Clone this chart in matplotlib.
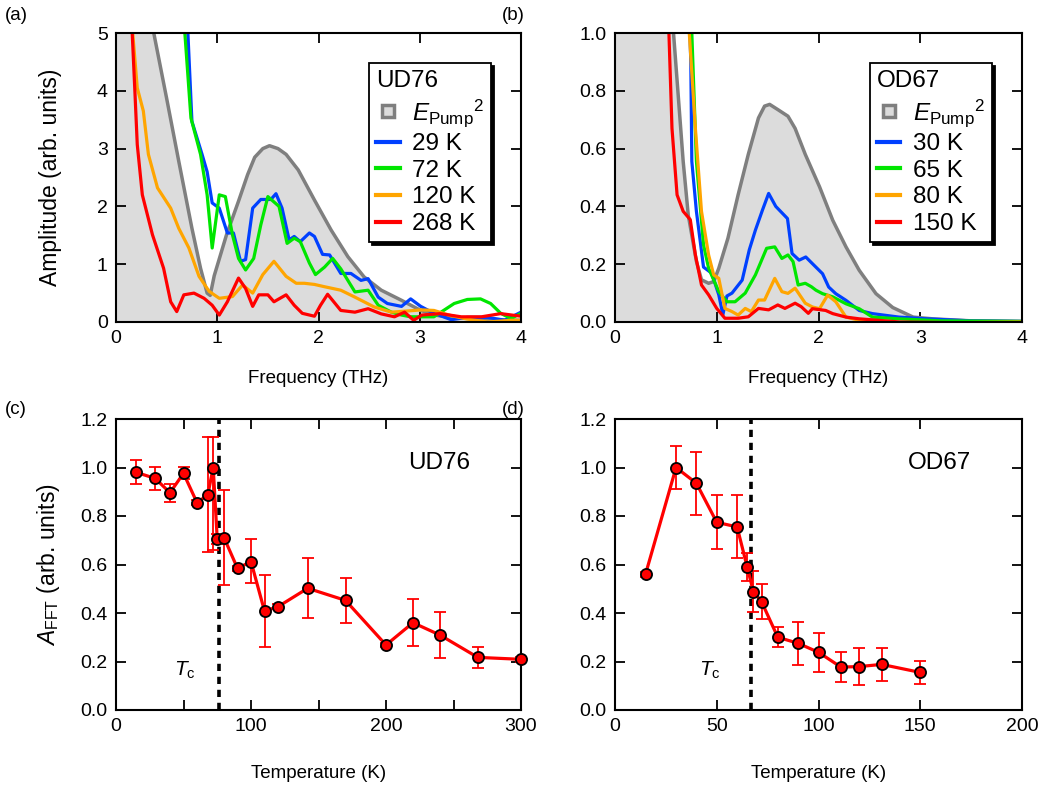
import matplotlib
matplotlib.use("Agg")
import matplotlib.pyplot as plt
from matplotlib.lines import Line2D
import numpy as np

plt.rcParams['font.family'] = ['Liberation Sans', 'DejaVu Sans']
plt.rcParams['mathtext.fontset'] = 'custom'
plt.rcParams['mathtext.rm'] = 'Liberation Sans'
plt.rcParams['mathtext.it'] = 'Liberation Sans:italic'
plt.rcParams['font.size'] = 13

# ---- panel (a): UD76 spectra (freq THz, amplitude)
ud_pump_f = [0.0, 0.2, 0.373, 0.5, 0.62, 0.75, 0.835, 0.90, 0.93, 0.97, 1.09, 1.21, 1.30, 1.37, 1.45,
             1.516, 1.60, 1.68, 1.80, 1.96, 2.125, 2.29, 2.45, 2.62, 2.82, 3.01, 3.15, 3.3, 3.6, 4.0]
ud_pump_a = [9.0, 7.0, 5.0, 3.87, 2.78, 1.62, 0.93, 0.50, 0.46, 0.80, 1.5, 2.09, 2.55, 2.85, 3.0,
             3.05, 3.0, 2.9, 2.63, 2.11, 1.59, 1.13, 0.78, 0.55, 0.375, 0.2, 0.12, 0.08, 0.05, 0.03]

ud_29_f = [0.6, 0.71, 0.75, 0.85, 0.90, 0.95, 1.02, 1.10, 1.16, 1.23, 1.28, 1.35, 1.43, 1.53, 1.58, 1.64,
           1.71, 1.76, 1.82, 1.91, 1.96, 2.04, 2.11, 2.22, 2.32, 2.42, 2.49, 2.59, 2.68, 2.82, 2.91, 3.01,
           3.14, 3.31, 3.47, 3.67, 3.84, 4.0]
ud_29_a = [7.0, 5.0, 3.47, 2.9, 2.6, 2.06, 1.97, 1.54, 1.54, 1.05, 1.08, 1.97, 2.12, 2.12, 2.22, 1.97,
           1.42, 1.48, 1.39, 1.54, 1.48, 1.17, 1.16, 0.84, 0.84, 0.72, 0.75, 0.43, 0.32, 0.27, 0.40, 0.27,
           0.15, 0.04, 0.08, 0.08, 0.03, 0.17]

ud_72_f = [0.6, 0.68, 0.74, 0.835, 0.90, 0.95, 1.02, 1.08, 1.15, 1.21, 1.28, 1.36, 1.43, 1.50, 1.61, 1.69,
           1.76, 1.82, 1.91, 1.97, 2.06, 2.14, 2.22, 2.36, 2.49, 2.59, 2.72, 2.82, 2.91, 3.14, 3.34, 3.47,
           3.60, 3.70, 3.80, 3.90, 4.0]
ud_72_a = [7.0, 5.0, 3.53, 2.9, 2.2, 1.28, 2.2, 2.17, 1.51, 1.10, 0.90, 1.10, 1.68, 2.17, 2.0, 1.36,
           1.45, 1.39, 1.02, 0.82, 0.95, 1.10, 0.92, 0.52, 0.55, 0.29, 0.17, 0.12, 0.09, 0.09, 0.32, 0.39,
           0.40, 0.32, 0.15, 0.06, 0.15]

ud_120_f = [0.1, 0.165, 0.21, 0.27, 0.32, 0.41, 0.54, 0.62, 0.72, 0.82, 0.92, 1.02, 1.15, 1.25, 1.35, 1.45,
            1.56, 1.68, 1.78, 1.86, 1.96, 2.06, 2.22, 2.36, 2.55, 2.72, 2.95, 3.01, 3.14, 3.31, 3.47, 3.67,
            3.9, 4.0]
ud_120_a = [7.0, 5.0, 4.05, 3.65, 2.9, 2.32, 1.97, 1.62, 1.28, 0.79, 0.53, 0.41, 0.44, 0.64, 0.50, 0.82,
            1.05, 0.79, 0.67, 0.67, 0.65, 0.61, 0.55, 0.43, 0.26, 0.17, 0.2, 0.21, 0.20, 0.11, 0.05, 0.0,
            0.03, 0.03]

ud_268_f = [0.1, 0.16, 0.185, 0.21, 0.26, 0.36, 0.47, 0.54, 0.60, 0.67, 0.77, 0.87, 0.95, 1.02, 1.10, 1.21,
            1.28, 1.35, 1.41, 1.50, 1.56, 1.68, 1.76, 1.84, 1.96, 2.02, 2.09, 2.22, 2.36, 2.49, 2.62, 2.75,
            2.85, 2.94, 3.02, 3.2, 3.41, 3.61, 3.80, 4.0]
ud_268_a = [7.0, 5.0, 4.05, 3.07, 2.2, 1.51, 0.93, 0.35, 0.18, 0.47, 0.5, 0.41, 0.29, 0.12, 0.35, 0.76,
            0.58, 0.27, 0.47, 0.47, 0.35, 0.47, 0.29, 0.15, 0.10, 0.29, 0.48, 0.2, 0.17, 0.23, 0.14, 0.09,
            0.17, 0.03, 0.12, 0.145, 0.09, 0.09, 0.145, 0.10]

# ---- panel (b): OD67 spectra
od_pump_f = [0.0, 0.4, 0.575, 0.62, 0.67, 0.72, 0.80, 0.85, 0.92, 0.97, 1.02, 1.11, 1.21, 1.31, 1.41, 1.47,
             1.52, 1.60, 1.70, 1.77, 1.87, 2.01, 2.14, 2.27, 2.40, 2.565, 2.73, 2.93, 3.12, 3.5, 4.0]
od_pump_a = [2.0, 1.4, 1.0, 0.79, 0.556, 0.37, 0.21, 0.146, 0.134, 0.14, 0.186, 0.29, 0.44, 0.58, 0.706, 0.747,
             0.753, 0.735, 0.712, 0.67, 0.58, 0.468, 0.352, 0.26, 0.179, 0.098, 0.05, 0.017, 0.011, 0.004, 0.002]

od_30_f = [0.7, 0.745, 0.755, 0.80, 0.87, 0.95, 1.02, 1.06, 1.10, 1.15, 1.25, 1.32, 1.38, 1.45, 1.51, 1.58,
           1.695, 1.74, 1.81, 1.875, 1.94, 2.04, 2.10, 2.17, 2.27, 2.40, 2.53, 2.79, 3.06, 3.5, 4.0]
od_30_a = [1.4, 0.9, 0.556, 0.383, 0.19, 0.169, 0.094, 0.025, 0.09, 0.10, 0.145, 0.25, 0.318, 0.388, 0.445, 0.40,
           0.358, 0.237, 0.214, 0.225, 0.202, 0.167, 0.121, 0.098, 0.075, 0.040, 0.029, 0.017, 0.011, 0.004, 0.002]

od_65_f = [0.7, 0.755, 0.80, 0.87, 0.92, 1.02, 1.10, 1.18, 1.28, 1.38, 1.49, 1.57, 1.64, 1.70, 1.75, 1.80,
           1.87, 1.93, 1.975, 2.04, 2.14, 2.27, 2.40, 2.53, 2.79, 3.2, 4.0]
od_65_a = [1.4, 1.0, 0.556, 0.267, 0.186, 0.105, 0.07, 0.07, 0.10, 0.163, 0.255, 0.26, 0.22, 0.232, 0.209, 0.128,
           0.134, 0.122, 0.11, 0.098, 0.087, 0.063, 0.046, 0.017, 0.011, 0.004, 0.002]

od_80_f = [0.68, 0.73, 0.79, 0.85, 0.92, 0.97, 1.02, 1.08, 1.15, 1.21, 1.28, 1.34, 1.41, 1.47, 1.57, 1.64,
           1.70, 1.77, 1.87, 1.94, 2.01, 2.09, 2.17, 2.27, 2.40, 2.8, 3.5, 4.0]
od_80_a = [1.4, 1.0, 0.67, 0.383, 0.232, 0.163, 0.151, 0.047, 0.036, 0.024, 0.047, 0.036, 0.076, 0.076, 0.151, 0.105,
           0.099, 0.117, 0.065, 0.052, 0.046, 0.093, 0.07, 0.017, 0.006, -0.003, -0.002, 0.0]

od_150_f = [0.5, 0.53, 0.56, 0.61, 0.67, 0.74, 0.79, 0.85, 0.92, 1.0, 1.08, 1.21, 1.31, 1.41, 1.51, 1.60,
            1.67, 1.77, 1.83, 1.90, 1.94, 2.07, 2.14, 2.27, 2.40, 2.8, 3.5, 4.0]
od_150_a = [1.4, 1.0, 0.67, 0.44, 0.383, 0.354, 0.232, 0.128, 0.094, 0.047, 0.013, 0.013, 0.018, 0.047, 0.042, 0.059,
            0.047, 0.065, 0.053, 0.03, 0.046, 0.04, 0.029, 0.017, 0.011, 0.0, -0.003, -0.002]

# ---- panel (c): UD76 A_FFT vs temperature
ud_T = [15, 29, 40, 50, 60, 68, 72, 75, 80, 90, 100, 110, 120, 142, 170, 200, 220, 240, 268, 300]
ud_A = [0.98, 0.955, 0.896, 0.976, 0.855, 0.887, 1.0, 0.704, 0.711, 0.584, 0.612, 0.408, 0.426, 0.502,
        0.452, 0.268, 0.36, 0.309, 0.217, 0.209]
ud_err_lo = [0.05, 0.047, 0.038, 0.025, 0.01, 0.234, 0.34, 0.02, 0.196, 0.01, 0.09, 0.147, 0.01, 0.124,
             0.095, 0.01, 0.096, 0.093, 0.045, 0.01]
ud_err_hi = [0.05, 0.047, 0.036, 0.026, 0.01, 0.24, 0.127, 0.02, 0.196, 0.01, 0.092, 0.149, 0.01, 0.126,
             0.092, 0.01, 0.098, 0.094, 0.044, 0.01]
ud_Tc = 76

# ---- panel (d): OD67 A_FFT vs temperature
od_T = [15, 30, 40, 50, 60, 65, 68, 72, 80, 90, 100, 111, 120, 131, 150]
od_A = [0.56, 1.0, 0.935, 0.774, 0.755, 0.588, 0.488, 0.447, 0.30, 0.275, 0.238, 0.177, 0.179, 0.188, 0.155]
od_err = [0.01, 0.09, 0.13, 0.112, 0.13, 0.058, 0.085, 0.073, 0.042, 0.088, 0.08, 0.063, 0.075, 0.068, 0.047]
od_Tc = 67

BLUE = '#0040ff'
GREEN = '#00e600'
ORANGE = '#ffa500'
RED = '#ff0000'
GRAY = '#7f7f7f'
FILL = '#dcdcdc'
LW = 2.3
TICK_FS = 14
LABEL_FS = 13.5
YLABEL_FS = 16.5
NOTE_FS = 17.5


def style_axes(ax):
    for s in ax.spines.values():
        s.set_linewidth(1.5)
    ax.tick_params(direction='in', length=7, width=1.3, top=True, right=True,
                   labelsize=TICK_FS, pad=6)


def spectra_panel(ax, pump_f, pump_a, curves, labels, title, ymax, yticks, ylabels):
    ax.fill_between(pump_f, pump_a, 0, color=FILL, lw=0)
    ax.plot(pump_f, pump_a, color=GRAY, lw=2.5)
    colors = [BLUE, GREEN, ORANGE, RED]
    for (f, a), c in zip(curves, colors):
        ax.plot(f, a, color=c, lw=LW)
    ax.set_xlim(0, 4)
    ax.set_ylim(0, ymax)
    ax.set_xticks([0, 1, 2, 3, 4])
    ax.set_yticks(yticks)
    ax.set_yticklabels(ylabels)
    ax.set_xlabel('Frequency (THz)', fontsize=LABEL_FS)
    ax.xaxis.set_label_coords(0.5, -0.165)
    style_axes(ax)
    handles = [Line2D([], [], marker='s', ms=8, mfc=FILL, mec=GRAY, mew=2.5, ls='none')]
    handles += [Line2D([], [], color=c, lw=3) for c in colors]
    leg = ax.legend(handles, [r'$E_{\mathrm{Pump}}{}^{2}$'] + labels, title=title,
                    loc='upper right', bbox_to_anchor=(0.926, 0.896), borderaxespad=0,
                    fontsize=NOTE_FS, title_fontsize=NOTE_FS, alignment='left', fancybox=False,
                    edgecolor='black', framealpha=1, handlelength=0.95, handletextpad=0.5,
                    labelspacing=0.19, borderpad=0.3,
                    shadow={'color': 'black', 'alpha': 1})
    leg.get_frame().set_linewidth(1.3)
    return leg


def temp_panel(ax, T, A, err, Tc, name, xmax, xticks, xlabels, tc_x):
    ax.axvline(Tc, color='black', ls=(0, (2, 1.6)), lw=2.6, zorder=1)
    ax.errorbar(T, A, yerr=err, color=RED, lw=2.3, ecolor=RED, elinewidth=1.3,
                capsize=4.3, capthick=1.3, marker='o', ms=8, mfc=RED, mec='black',
                mew=1.3, clip_on=False, zorder=3)
    ax.set_xlim(0, xmax)
    ax.set_ylim(0, 1.2)
    ax.set_xticks(xticks)
    ax.set_xticklabels(xlabels)
    ax.set_yticks([0, 0.2, 0.4, 0.6, 0.8, 1.0, 1.2])
    ax.set_yticklabels(['0.0', '0.2', '0.4', '0.6', '0.8', '1.0', '1.2'])
    ax.set_xlabel('Temperature (K)', fontsize=LABEL_FS)
    ax.xaxis.set_label_coords(0.5, -0.19)
    ax.text(0.797, 0.85, name, transform=ax.transAxes, fontsize=NOTE_FS, ha='center', va='center')
    ax.text(tc_x, 0.135, r'$T_{\mathrm{c}}$', transform=ax.transAxes, fontsize=15,
            ha='center', va='center')
    style_axes(ax)


fig = plt.figure(figsize=(10.45, 8.02), dpi=100)
W, H = 1045.0, 802.0
ax_a = fig.add_axes([116 / W, 1 - 322 / H, 405 / W, 289 / H])
ax_b = fig.add_axes([615 / W, 1 - 322 / H, 407 / W, 289 / H])
ax_c = fig.add_axes([116 / W, 1 - 710 / H, 405 / W, 291 / H])
ax_d = fig.add_axes([615 / W, 1 - 710 / H, 407 / W, 291 / H])

spectra_panel(ax_a, ud_pump_f, ud_pump_a,
              [(ud_29_f, ud_29_a), (ud_72_f, ud_72_a), (ud_120_f, ud_120_a), (ud_268_f, ud_268_a)],
              ['29 K', '72 K', '120 K', '268 K'], 'UD76', 5,
              [0, 1, 2, 3, 4, 5], ['0', '1', '2', '3', '4', '5'])
ax_a.set_ylabel('Amplitude (arb. units)', fontsize=YLABEL_FS)
ax_a.yaxis.set_label_coords(-0.133, 0.5)

spectra_panel(ax_b, od_pump_f, od_pump_a,
              [(od_30_f, od_30_a), (od_65_f, od_65_a), (od_80_f, od_80_a), (od_150_f, od_150_a)],
              ['30 K', '65 K', '80 K', '150 K'], 'OD67', 1.0,
              [0, 0.2, 0.4, 0.6, 0.8, 1.0], ['0.0', '0.2', '0.4', '0.6', '0.8', '1.0'])

temp_panel(ax_c, ud_T, ud_A, [ud_err_lo, ud_err_hi], ud_Tc, 'UD76', 300,
           [0, 50, 100, 150, 200, 250, 300], ['0', '', '100', '', '200', '', '300'], 0.17)
ax_c.set_ylabel(r'$A_{\mathrm{FFT}}$ (arb. units)', fontsize=YLABEL_FS)
ax_c.yaxis.set_label_coords(-0.133, 0.5)

temp_panel(ax_d, od_T, od_A, od_err, od_Tc, 'OD67', 200,
           [0, 50, 100, 150, 200], ['0', '50', '100', '150', '200'], 0.233)

for lab, x, y in [('(a)', 5, 15), ('(b)', 502, 15), ('(c)', 5, 410), ('(d)', 502, 410)]:
    fig.text(x / W, 1 - y / H, lab, fontsize=13.5, ha='left', va='center')

fig.savefig('out.png', dpi=100)
